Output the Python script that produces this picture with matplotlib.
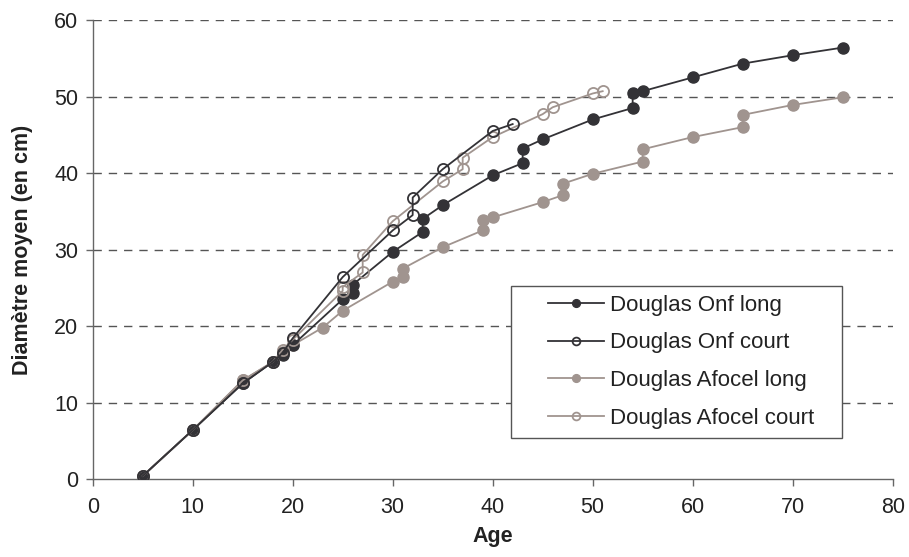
import matplotlib.pyplot as plt
from matplotlib.patches import Rectangle

# Douglas Onf long
onf_long_age = [5, 10, 15, 18, 19, 20, 25, 26, 26, 30, 33, 33, 35, 40, 43, 43, 45, 50, 54, 54, 55, 60, 65, 70, 75]
onf_long_diam = [0.4, 6.4, 12.5, 15.3, 16.2, 17.5, 23.5, 24.3, 25.4, 29.7, 32.3, 34.0, 35.8, 39.7, 41.3, 43.2,
                 44.4, 47.0, 48.5, 50.4, 50.7, 52.5, 54.3, 55.4, 56.4]

# Douglas Onf court
onf_court_age = [5, 10, 15, 18, 19, 20, 25, 30, 32, 32, 35, 40, 42]
onf_court_diam = [0.4, 6.4, 12.5, 15.3, 16.5, 18.4, 26.4, 32.5, 34.5, 36.8, 40.5, 45.5, 46.4]

# Douglas Afocel long
afo_long_age = [5, 10, 15, 18, 19, 20, 23, 25, 30, 31, 31, 35, 39, 39, 40, 45, 47, 47, 50, 55, 55, 60, 65, 65, 70, 75]
afo_long_diam = [0.4, 6.4, 12.9, 15.3, 16.6, 17.5, 19.8, 22.0, 25.8, 26.4, 27.5, 30.3, 32.5, 33.8, 34.2, 36.2,
                 37.1, 38.6, 39.9, 41.5, 43.1, 44.7, 46.0, 47.6, 48.9, 49.9]

# Douglas Afocel court
afo_court_age = [5, 10, 15, 18, 19, 20, 25, 25, 27, 27, 30, 35, 37, 37, 40, 45, 46, 50, 51]
afo_court_diam = [0.4, 6.4, 12.9, 15.3, 16.9, 18.2, 24.6, 25.1, 27.0, 29.3, 33.7, 38.9, 40.5, 42.0, 44.7, 47.7,
                  48.6, 50.4, 50.7]

dark = '#333236'
grey = '#a0948f'

plt.rcParams['font.family'] = ['Liberation Sans', 'DejaVu Sans']

fig = plt.figure(figsize=(9.09, 5.57), dpi=100)
ax = fig.add_axes([0.102, 0.14, 0.880, 0.824])

ms = 8
ax.plot(onf_long_age, onf_long_diam, color=dark, lw=1.3, marker='o', ms=ms,
        mfc=dark, mec=dark, label='Douglas Onf long', zorder=3)
ax.plot(onf_court_age, onf_court_diam, color=dark, lw=1.3, marker='o', ms=ms,
        mfc='none', mec=dark, mew=1.3, label='Douglas Onf court', zorder=4)
ax.plot(afo_long_age, afo_long_diam, color=grey, lw=1.3, marker='o', ms=ms,
        mfc=grey, mec=grey, label='Douglas Afocel long', zorder=2)
ax.plot(afo_court_age, afo_court_diam, color=grey, lw=1.3, marker='o', ms=ms,
        mfc='none', mec=grey, mew=1.3, label='Douglas Afocel court', zorder=3)

ax.set_xlim(0, 80)
ax.set_ylim(0, 60)
ax.set_xticks(range(0, 81, 10))
ax.set_yticks(range(0, 61, 10))

for v in range(10, 61, 10):
    ax.axhline(v, color='#555555', lw=1, ls=(0, (6, 5)), zorder=1)

for s in ['top', 'right']:
    ax.spines[s].set_visible(False)
for s in ['left', 'bottom']:
    ax.spines[s].set_color('#666666')
    ax.spines[s].set_linewidth(1)

ax.tick_params(axis='both', direction='out', length=5, width=1, color='#666666',
               labelsize=15.5, labelcolor='#222222')
ax.tick_params(axis='x', pad=8)
ax.tick_params(axis='y', pad=5.5)

ax.set_xlabel('Age', fontsize=15.5, fontweight='bold', color='#222222', labelpad=6)
ax.set_ylabel('Diamètre moyen (en cm)', fontsize=15.5, fontweight='bold', color='#222222', labelpad=15)

# legend box drawn separately (white, covers the grid), legend itself frameless
ax.add_patch(Rectangle((0.562, 0.2136), 0.364, 0.273, transform=fig.transFigure, clip_on=False,
                       facecolor='white', edgecolor='#555555', lw=1, zorder=4.5))
leg = ax.legend(loc='upper left', bbox_to_anchor=(0.603, 0.471), bbox_transform=fig.transFigure,
                borderaxespad=0, borderpad=0, frameon=False,
                fontsize=16, handlelength=2.5, handletextpad=0.3, labelspacing=0.75,
                markerscale=0.7)
leg.set_zorder(5)
for t in leg.get_texts():
    t.set_color('#222222')

fig.savefig('out.png', dpi=100)
